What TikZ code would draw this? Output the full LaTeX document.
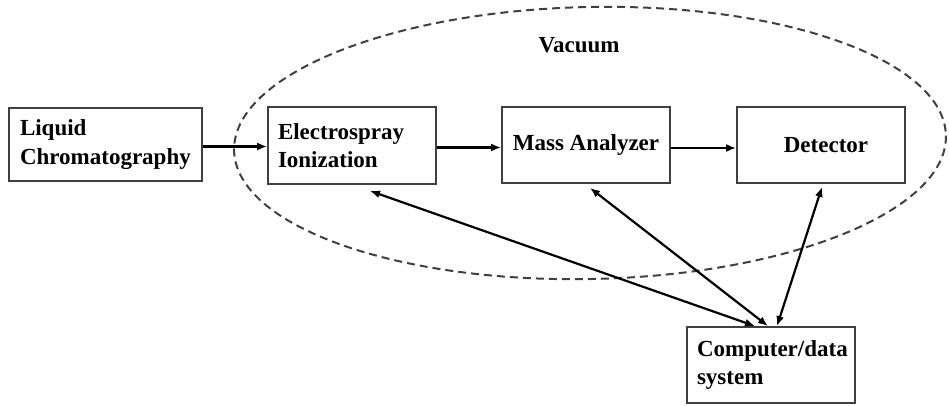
\documentclass[tikz,border=0pt]{standalone}
\usepackage{fontspec}
\setmainfont{Liberation Serif}
\usetikzlibrary{arrows.meta,calc}
\begin{document}
\begin{tikzpicture}[x=1pt,y=-1pt,
  box/.style={draw=black!75,line width=1.8pt,inner ysep=0pt,
    font=\fontsize{23}{28.5}\selectfont\bfseries},
  conn/.style={line width=2.2pt,-{Latex[length=10pt,width=8pt]}},
  biconn/.style={line width=2.2pt,{Latex[length=10pt,width=8pt]}-{Latex[length=10pt,width=8pt]}},
  vac/.style={draw=black!75,line width=2pt,dash pattern=on 8pt off 5pt}]
\useasboundingbox (0,0) rectangle (949,405);
\draw[vac,rotate around={1.2:(590,143)}] (590,143) ellipse [x radius=356, y radius=136];
\node[font=\fontsize{23}{28}\selectfont\bfseries] (vacuum) at (579,45) {Vacuum};
\node[box,minimum width=193pt,minimum height=73pt,text width=171pt,inner xsep=11pt,align=left] (lc) at (105.5,144.5) {Liquid\\Chromatography};
\node[box,minimum width=168pt,minimum height=77pt,text width=148pt,inner xsep=10pt,align=left] (esi) at (352,145.5) {Electrospray\\Ionization};
\node[box,minimum width=168pt,minimum height=76pt,inner xsep=0pt,align=center] (ma) at (586,145) {Mass Analyzer};
\node[box,minimum width=168pt,minimum height=76pt,inner xsep=0pt,align=center] (det) at (821,145) {\hspace*{10pt}Detector};
\node[box,minimum width=168pt,minimum height=76pt,text width=148pt,inner xsep=10pt,align=left] (comp) at (771,365) {Computer/data\\system};
\draw[conn] ([yshift=-2pt]lc.east) -- ([yshift=-2pt]lc.east -| esi.west);
\draw[conn] ([yshift=-2pt]esi.east) -- ([yshift=-2pt]esi.east -| ma.west);
\draw[conn] ([yshift=-3pt]ma.east) -- ([yshift=-3pt]ma.east -| det.west);
\draw[biconn] ([xshift=18pt,yshift=-6pt]esi.south) -- ([xshift=-16pt]comp.north);
\draw[biconn] ([xshift=4pt,yshift=-4pt]ma.south) -- ([xshift=-3pt]comp.north);
\draw[biconn] ([xshift=1pt,yshift=-3pt]det.south) -- ([xshift=6pt]comp.north);
\end{tikzpicture}
\end{document}
